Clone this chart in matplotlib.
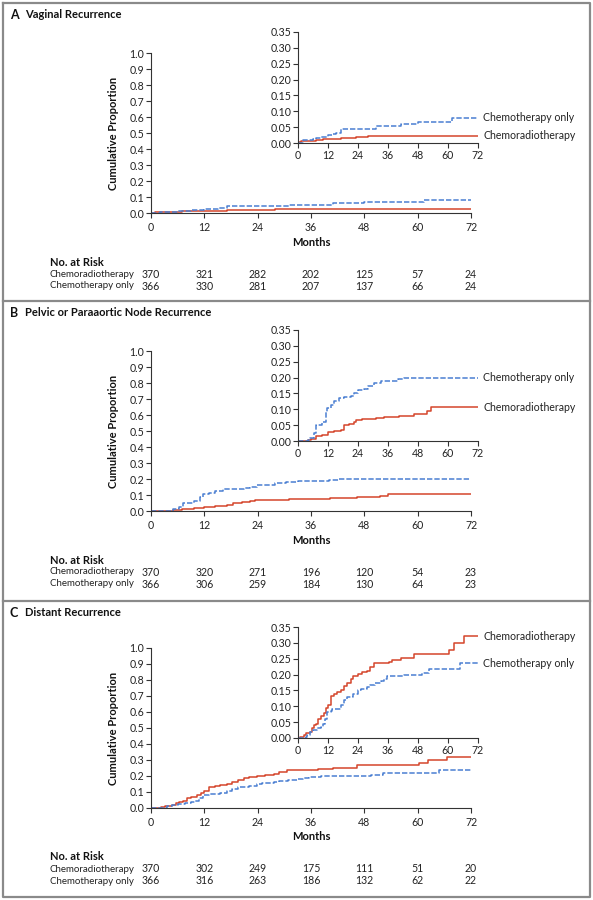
import matplotlib
matplotlib.use("Agg")
import matplotlib.pyplot as plt
from matplotlib.lines import Line2D

plt.rcParams['font.family'] = ['Lato', 'DejaVu Sans']

W, H = 593, 900

# Panel titles
titles = ['Vaginal Recurrence', 'Pelvic or Paraaortic Node Recurrence', 'Distant Recurrence']
letters = ['A', 'B', 'C']

months = [0, 12, 24, 36, 48, 60, 72]

# Numbers at risk
risk_crt = [[370, 321, 282, 202, 125, 57, 24],
            [370, 320, 271, 196, 120, 54, 23],
            [370, 302, 249, 175, 111, 51, 20]]
risk_ct = [[366, 330, 281, 207, 137, 66, 24],
           [366, 306, 259, 184, 130, 64, 23],
           [366, 316, 263, 186, 132, 62, 22]]

# Step curves (time in months, cumulative proportion)
# A - vaginal
a_ct_t = [0, 2, 6, 7, 9, 12, 14, 15, 17, 31, 41, 48, 61.5, 72]
a_ct_v = [0, 0.008, 0.012, 0.015, 0.018, 0.024, 0.028, 0.031, 0.045, 0.053, 0.061, 0.067, 0.079, 0.079]
a_crt_t = [0, 1, 7, 10, 17, 23, 28, 72]
a_crt_v = [0.003, 0.005, 0.01, 0.013, 0.017, 0.02, 0.023, 0.023]

# B - pelvic or paraaortic node
b_ct_t = [0, 4, 4.9, 6.3, 7.2, 9.6, 11, 11.6, 13, 14.3, 16.3, 18.3, 21, 22.3, 23.9,
          26.3, 27.9, 30.3, 33, 38, 40, 42.3, 72]
b_ct_v = [0, 0.003, 0.01, 0.025, 0.05, 0.061, 0.09, 0.105, 0.115, 0.125, 0.135, 0.138, 0.143,
          0.15, 0.16, 0.165, 0.175, 0.183, 0.188, 0.19, 0.195, 0.199, 0.199]
b_crt_t = [0, 4, 5, 7, 9.6, 12, 14.3, 17, 18.5, 20.5, 22.3, 23.3, 25.6, 31, 34.3, 40.3,
           46.3, 51.6, 53.3, 72]
b_crt_v = [0, 0.002, 0.005, 0.015, 0.02, 0.028, 0.032, 0.035, 0.05, 0.055, 0.06, 0.067, 0.07,
           0.073, 0.077, 0.08, 0.085, 0.095, 0.107, 0.107]

# C - distant
c_crt_t = [0, 0.7, 2.3, 3.2, 4.7, 5.6, 6.3, 7.2, 8, 9, 10.3, 11.3, 12, 13, 14.3, 15.6, 17,
           18.3, 19.6, 21, 22, 23.9, 25.6, 27.6, 28.9, 30.5, 36.3, 37.6, 41, 46.3, 60.3,
           62.3, 66.5, 72]
c_crt_v = [0, 0.003, 0.008, 0.015, 0.02, 0.03, 0.04, 0.045, 0.06, 0.07, 0.08, 0.095, 0.105,
           0.132, 0.14, 0.145, 0.15, 0.165, 0.175, 0.185, 0.196, 0.203, 0.207, 0.21, 0.225,
           0.238, 0.24, 0.245, 0.253, 0.266, 0.279, 0.299, 0.321, 0.321]
c_ct_t = [0, 3, 3.6, 4.7, 6, 7.6, 9, 10, 10.7, 11.6, 13, 13.6, 15.6, 17, 18.3, 19.6, 22,
          23.9, 25, 27.6, 28.9, 30.9, 33, 34.3, 35.6, 38.3, 42.3, 49.6, 52.3, 64.7, 72]
c_ct_v = [0, 0.003, 0.01, 0.02, 0.025, 0.03, 0.035, 0.045, 0.06, 0.081, 0.085, 0.09, 0.093,
          0.105, 0.12, 0.13, 0.138, 0.15, 0.156, 0.16, 0.168, 0.175, 0.18, 0.185, 0.194,
          0.197, 0.198, 0.205, 0.216, 0.236, 0.236]

curves = [((a_crt_t, a_crt_v), (a_ct_t, a_ct_v)),
          ((b_crt_t, b_crt_v), (b_ct_t, b_ct_v)),
          ((c_crt_t, c_crt_v), (c_ct_t, c_ct_v))]

RED = '#d4452b'
BLUE = '#4a7fd2'
GRAY = '#333333'
FS = 7.6

# pixel layout: panel top, main axes top/bottom, inset top/bottom
panel_tops = [3, 301, 601]
main_box = [(53, 213), (351, 511), (648, 808)]
inset_box = [(32, 143), (330, 441), (627, 738)]

fig = plt.figure(figsize=(W / 100, H / 100), dpi=100)


def px_axes(left, top, right, bottom):
    return fig.add_axes([left / W, 1 - bottom / H, (right - left) / W, (bottom - top) / H])


def style(ax, fs):
    for s in ['top', 'right']:
        ax.spines[s].set_visible(False)
    for s in ['left', 'bottom']:
        ax.spines[s].set_color(GRAY)
        ax.spines[s].set_linewidth(0.8)
    ax.tick_params(direction='out', length=3.5, width=0.8, color=GRAY,
                   labelsize=fs, labelcolor='#222222', pad=1.5)
    ax.set_facecolor('none')


def draw_curves(ax, pair):
    (t1, v1), (t2, v2) = pair
    ax.step(t1, v1, where='post', color=RED, lw=1.1)
    ax.step(t2, v2, where='post', color=BLUE, lw=1.1, dashes=(3.5, 1.3))


def fy(y):
    return 1 - y / H


def fx(x):
    return x / W


for i in range(3):
    # main plot
    mt, mb = main_box[i]
    ax = px_axes(151, mt, 471, mb)
    draw_curves(ax, curves[i])
    ax.set_xlim(0, 72)
    ax.set_ylim(0, 1.0)
    ax.set_xticks(months)
    ax.set_yticks([k / 10 for k in range(11)])
    ax.set_yticklabels(['%.1f' % (k / 10) for k in range(11)])
    style(ax, FS)
    ax.tick_params(axis='x', pad=3)

    fig.text(fx(114), fy((mt + mb) / 2), 'Cumulative Proportion', rotation=90,
             ha='center', va='center', fontsize=8, fontweight='bold', color='#111111')
    fig.text(fx(311), fy(mb + 29), 'Months', ha='center', va='center',
             fontsize=8, fontweight='bold', color='#111111')

    # inset
    it, ib = inset_box[i]
    ins = px_axes(298, it, 478, ib)
    draw_curves(ins, curves[i])
    ins.set_xlim(0, 72)
    ins.set_ylim(0, 0.35)
    ins.set_xticks(months)
    ins.set_yticks([k * 0.05 for k in range(8)])
    ins.set_yticklabels(['%.2f' % (k * 0.05) for k in range(8)])
    style(ins, FS)
    (t1, v1), (t2, v2) = curves[i]
    ins.text(74, v1[-1], 'Chemoradiotherapy', ha='left', va='center',
             fontsize=FS, color='#222222', clip_on=False)
    ins.text(74, v2[-1], 'Chemotherapy only', ha='left', va='center',
             fontsize=FS, color='#222222', clip_on=False)

    # title
    pt = panel_tops[i]
    fig.text(fx(10), fy(pt + 12), letters[i], ha='left', va='center',
             fontsize=9, fontweight='bold', color='#111111')
    fig.text(fx(25), fy(pt + 12), titles[i], ha='left', va='center',
             fontsize=8, fontweight='bold', color='#111111')

    # number at risk
    fig.text(fx(50), fy(mb + 49), 'No. at Risk', ha='left', va='center',
             fontsize=8, fontweight='bold', color='#111111')
    for row, (name, vals) in enumerate([('Chemoradiotherapy', risk_crt[i]),
                                        ('Chemotherapy only', risk_ct[i])]):
        yy = fy(mb + 61 + 12 * row)
        fig.text(fx(50), yy, name, ha='left', va='center', fontsize=7.0, color='#222222')
        for m, n in zip(months, vals):
            xpix = 151 + m / 72 * 320
            fig.text(fx(xpix), yy, str(n), ha='center', va='center',
                     fontsize=FS, color='#222222')

# frame
frame_col = '#8a8a8a'
fig.add_artist(Line2D([fx(3), fx(590), fx(590), fx(3), fx(3)],
                      [fy(3), fy(3), fy(897), fy(897), fy(3)], color=frame_col, lw=1.6))
for ys in [301, 601]:
    fig.add_artist(Line2D([fx(3), fx(590)], [fy(ys), fy(ys)], color=frame_col, lw=1.6))

fig.savefig('out.png', dpi=100)
